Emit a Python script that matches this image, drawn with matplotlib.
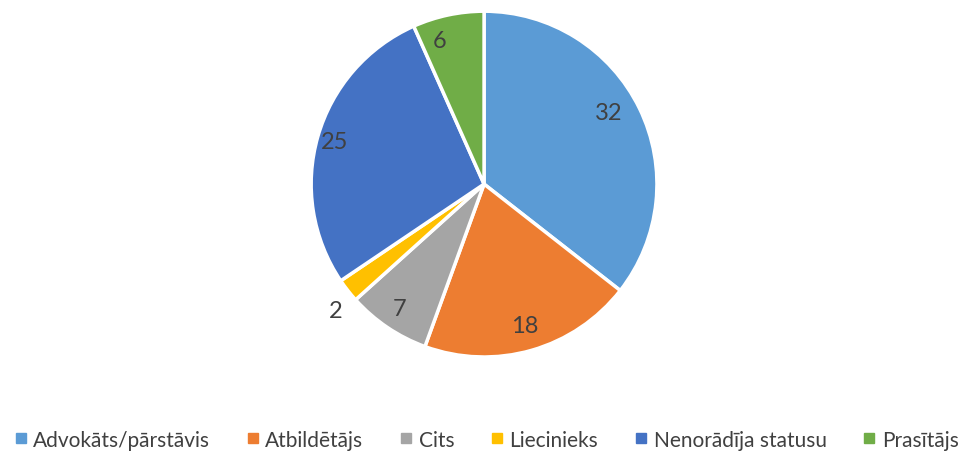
import numpy as np
import matplotlib.pyplot as plt
from matplotlib.lines import Line2D

# data
categories = ['Advokāts/pārstāvis', 'Atbildētājs', 'Cits', 'Liecinieks',
              'Nenorādīja statusu', 'Prasītājs']
values = [32, 18, 7, 2, 25, 6]
colors = ['#5B9BD5', '#ED7D31', '#A5A5A5', '#FFC000', '#4472C4', '#70AD47']
lab_r = [0.83, 0.85, 0.87, 1.13, 0.9, 0.87]  # radial label position
lab_da = [4, 0, 0, 2.5, 0, 5]  # small angular nudge (deg)

plt.rcParams['font.family'] = ['Lato', 'DejaVu Sans']

fig = plt.figure(figsize=(9.72, 4.52), dpi=100)
ax = fig.add_axes([0.32, 0.208, 0.356, 0.765])
wedges, _ = ax.pie(values, colors=colors, startangle=90, counterclock=False,
                   wedgeprops=dict(edgecolor='white', linewidth=2.5))
ax.set_xlim(-1, 1)
ax.set_ylim(-1, 1)
ax.set_aspect('equal')

# data labels placed along each wedge's mid angle
for w, v, r, da in zip(wedges, values, lab_r, lab_da):
    ang = np.deg2rad((w.theta1 + w.theta2) / 2 + da)
    ax.text(r * np.cos(ang), r * np.sin(ang), str(v), ha='center', va='center',
            fontsize=17, color='#404040')

handles = [Line2D([], [], marker='s', linestyle='none', markersize=7,
                  markerfacecolor=c, markeredgecolor=c) for c in colors]
fig.legend(handles, categories, loc='center', bbox_to_anchor=(0.5, 0.025),
           ncol=6, frameon=False, fontsize=15, handletextpad=0.25,
           columnspacing=1.7, labelcolor='#404040', handlelength=0.7)

plt.savefig('out.png', dpi=100)
